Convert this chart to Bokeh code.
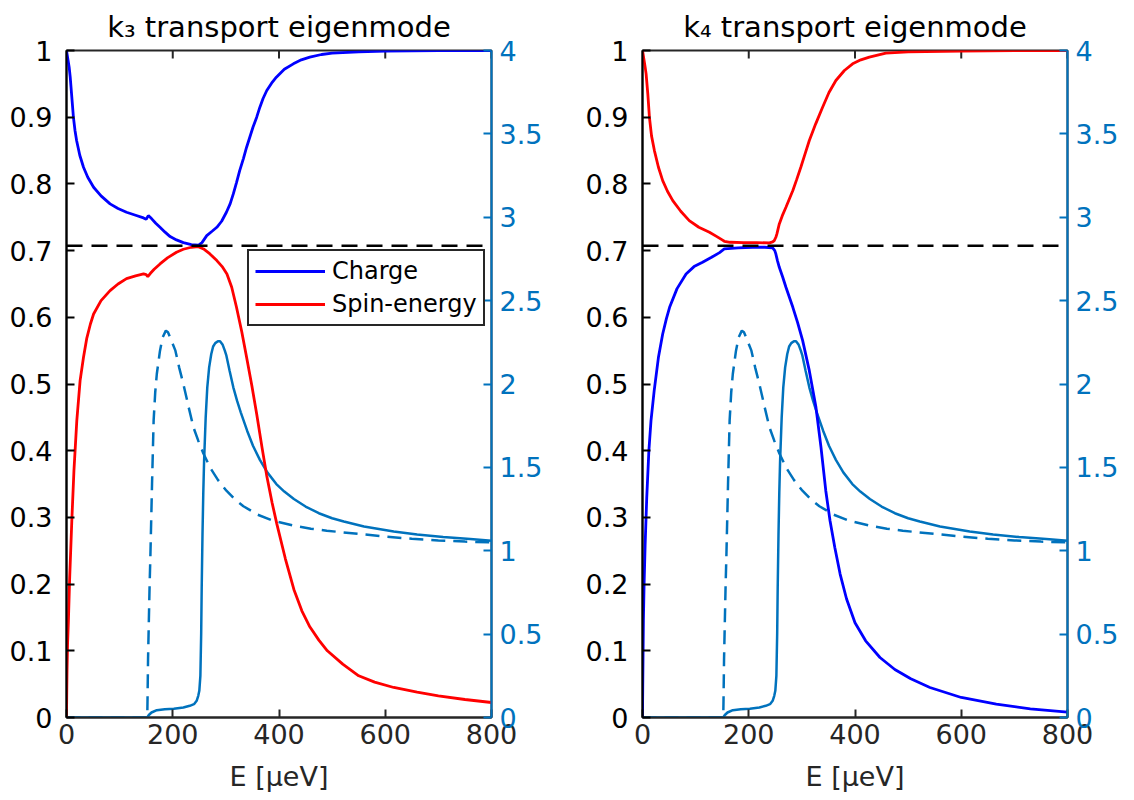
from bokeh.plotting import figure
from bokeh.models import Range1d, LinearAxis, FixedTicker, Span, Legend, LegendItem
from bokeh.layouts import row
from bokeh.embed import file_html
from bokeh.resources import INLINE

# ---------------- data ----------------
# k3 panel: charge component (left axis)
k3_charge_E = [0, 2, 5, 7, 10, 13, 16, 19, 25, 32, 40, 51, 65, 82, 97, 113, 130, 145, 150, 154, 160,
               168, 176, 185, 195, 207, 220, 235, 248, 255, 264, 274, 283, 292, 301, 308, 314, 320,
               326, 333, 339, 345, 351, 358, 364, 370, 377, 386, 395, 410, 427, 442, 458, 480, 500,
               550, 600, 700, 800]
k3_charge = [1.0, 0.99, 0.975, 0.96, 0.93, 0.90, 0.88, 0.865, 0.843, 0.825, 0.81, 0.795, 0.782, 0.770,
             0.763, 0.7575, 0.753, 0.749, 0.747, 0.7525, 0.748, 0.741, 0.735, 0.728, 0.721, 0.716,
             0.712, 0.709, 0.708, 0.712, 0.7225, 0.729, 0.735, 0.744, 0.7575, 0.77, 0.785, 0.802,
             0.82, 0.838, 0.855, 0.87, 0.885, 0.90, 0.915, 0.928, 0.94, 0.951, 0.96, 0.972, 0.98,
             0.986, 0.99, 0.994, 0.996, 0.998, 0.999, 1.0, 1.0]
# k3 panel: spin-energy component (left axis)
k3_spin_E = [0, 0.5, 1, 2, 3.6, 6, 10, 14, 19.4, 25.6, 32, 38, 45, 51, 65, 82, 97, 113, 130, 145, 150,
             153, 158, 165, 176, 190, 207, 220, 235, 248, 258, 270, 283, 293, 302, 311, 320, 330, 339,
             349, 358, 368, 377, 387, 396, 412, 428, 443, 458, 475, 491, 520, 550, 580, 616, 660,
             700, 750, 800]
k3_spin = [0, 0.04, 0.07, 0.11, 0.145, 0.21, 0.295, 0.37, 0.445, 0.505, 0.54, 0.568, 0.59, 0.605,
           0.625, 0.640, 0.650, 0.658, 0.662, 0.665, 0.664, 0.661, 0.666, 0.672, 0.680, 0.689, 0.6975,
           0.702, 0.705, 0.706, 0.7025, 0.695, 0.685, 0.676, 0.665, 0.645, 0.615, 0.578, 0.54, 0.497,
           0.455, 0.405, 0.362, 0.322, 0.29, 0.238, 0.192, 0.16, 0.136, 0.116, 0.10, 0.08, 0.0625,
           0.053, 0.045, 0.038, 0.0325, 0.027, 0.0225]

# k4 panel: charge component (left axis)
k4_charge_E = [0, 0.5, 1, 1.7, 3, 5, 8, 12, 16, 22, 30, 38, 45, 51, 65, 82, 97, 113, 130, 145, 154,
               180, 207, 230, 245, 249, 251, 254, 257.5, 264, 270, 283, 292, 301.5, 314, 326.5, 336,
               345, 353, 362, 372, 384, 400, 420, 447, 475, 505, 541, 600, 666, 730, 800]
k4_charge = [0, 0.05, 0.09, 0.145, 0.2, 0.26, 0.33, 0.40, 0.445, 0.49, 0.54, 0.575, 0.598, 0.615,
             0.643, 0.665, 0.676, 0.6825, 0.69, 0.697, 0.7025, 0.704, 0.705, 0.705, 0.704, 0.70,
             0.695, 0.685, 0.675, 0.66, 0.645, 0.615, 0.592, 0.565, 0.52, 0.465, 0.405, 0.34, 0.295,
             0.255, 0.215, 0.178, 0.142, 0.115, 0.09, 0.072, 0.058, 0.045, 0.03, 0.02, 0.013, 0.008]
# k4 panel: spin-energy component (left axis)
k4_spin_E = [0, 1, 3, 5, 6.8, 10, 13, 17, 22.4, 30, 38, 47, 57, 72, 88, 106, 126, 140, 150, 154, 165,
             190, 215, 239, 245, 248, 251, 253, 257.5, 263, 270, 283, 290, 298, 306, 314, 326, 339,
             351, 364, 380, 395.5, 411, 427, 458, 500, 600, 700, 800]
k4_spin = [1.0, 0.995, 0.985, 0.975, 0.965, 0.935, 0.90, 0.872, 0.85, 0.825, 0.805, 0.789, 0.775,
           0.759, 0.745, 0.735, 0.7275, 0.721, 0.716, 0.714, 0.7125, 0.712, 0.712, 0.7115, 0.713,
           0.715, 0.72, 0.725, 0.740, 0.752, 0.765, 0.79, 0.806, 0.825, 0.845, 0.865, 0.89, 0.915,
           0.937, 0.955, 0.97, 0.98, 0.986, 0.99, 0.996, 0.998, 0.999, 1.0, 1.0]

# right-axis curves (same in both panels)
solid_E = [0, 152, 155, 160, 170, 185, 202, 220, 232, 240, 245, 248, 250, 252, 253.5, 254.5, 256,
           257.5, 259, 262, 265, 268.5, 272.5, 276, 280, 285, 289, 294, 298, 301, 307, 314, 321, 328,
           340, 351, 364, 378, 395, 410, 428, 450, 475, 500, 522, 560, 616, 660, 709, 760, 800]
solid_V = [0, 0, 0.015, 0.03, 0.044, 0.05, 0.052, 0.06, 0.07, 0.08, 0.1, 0.13, 0.16, 0.25, 0.5, 0.78,
           1.1, 1.35, 1.54, 1.8, 1.98, 2.1, 2.18, 2.225, 2.245, 2.256, 2.256, 2.235, 2.2, 2.17, 2.08,
           1.98, 1.90, 1.83, 1.72, 1.63, 1.545, 1.47, 1.40, 1.355, 1.31, 1.265, 1.225, 1.195, 1.175,
           1.145, 1.115, 1.097, 1.082, 1.07, 1.06]
dashed_E = [0, 152, 152.5, 153.5, 155, 156.5, 158, 161, 164, 167, 170, 176, 181, 187, 191, 195, 200,
            205, 212, 220, 230, 239, 248, 257.5, 271, 285, 301, 317, 333, 360, 389, 428, 460, 490,
            553, 600, 650, 700, 750, 800]
dashed_V = [0, 0, 0.1, 0.35, 0.58, 0.8, 0.98, 1.4, 1.78, 1.95, 2.06, 2.2, 2.28, 2.32, 2.31, 2.28, 2.24,
            2.2, 2.1, 2.0, 1.86, 1.74, 1.66, 1.585, 1.495, 1.425, 1.36, 1.308, 1.267, 1.216, 1.18,
            1.15, 1.132, 1.12, 1.10, 1.085, 1.072, 1.062, 1.055, 1.05]

left_ticks = [0, 0.1, 0.2, 0.3, 0.4, 0.5, 0.6, 0.7, 0.8, 0.9, 1]
left_labels = ["0", "0.1", "0.2", "0.3", "0.4", "0.5", "0.6", "0.7", "0.8", "0.9", "1"]
right_ticks = [0, 0.5, 1, 1.5, 2, 2.5, 3, 3.5, 4]
right_labels = ["0", "0.5", "1", "1.5", "2", "2.5", "3", "3.5", "4"]
x_ticks = [0, 200, 400, 600, 800]
x_label = "E [\u03bceV]"
titles = ["k\u2083 transport eigenmode", "k\u2084 transport eigenmode"]
legend_labels = ["Charge", "Spin-energy"]
half_line = 0.7071

FONT = "DejaVu Sans"
AXC = "#262626"
LB = "#0072BD"
TICK_FS = "27px"


def style_axis(ax, color, ticks, labels=None, standoff=10):
    ax.ticker = FixedTicker(ticks=ticks)
    ax.axis_line_color = color
    ax.axis_line_width = 2
    ax.major_tick_line_color = color
    ax.major_tick_line_width = 2
    ax.major_tick_in = 8
    ax.major_tick_out = 0
    ax.minor_tick_line_color = None
    ax.major_label_text_font = FONT
    ax.major_label_text_color = color
    ax.major_label_standoff = standoff
    ax.major_label_text_font_size = TICK_FS
    if labels is not None:
        ax.major_label_overrides = {t: l for t, l in zip(ticks, labels)}


def panel(title, cE, cV, sE, sV, lb, rb, with_legend):
    p = figure(frame_width=425, frame_height=667, x_range=Range1d(0, 800), y_range=Range1d(0, 1),
               output_backend="svg", toolbar_location=None, title=title,
               min_border_left=lb, min_border_right=rb, min_border_top=50, min_border_bottom=80)
    p.title.align = "center"
    p.title.text_font = FONT
    p.title.text_font_size = "29px"
    p.title.text_font_style = "normal"
    p.title.text_color = "black"
    p.title.standoff = 13
    p.grid.visible = False
    p.outline_line_color = AXC
    p.outline_line_width = 2
    p.background_fill_color = "white"
    p.border_fill_color = "white"
    p.extra_y_ranges = {"right": Range1d(0, 4)}

    style_axis(p.xaxis[0], AXC, x_ticks, standoff=6)
    p.xaxis[0].axis_label = x_label
    p.xaxis[0].axis_label_text_font = FONT
    p.xaxis[0].axis_label_text_font_size = TICK_FS
    p.xaxis[0].axis_label_text_font_style = "normal"
    p.xaxis[0].axis_label_text_color = AXC
    p.xaxis[0].axis_label_standoff = 14
    style_axis(p.yaxis[0], "black", left_ticks, left_labels, standoff=14)

    rax = LinearAxis(y_range_name="right")
    style_axis(rax, LB, right_ticks, right_labels, standoff=8)
    p.add_layout(rax, "right")

    # tick marks along the top edge of the box
    p.segment(x0=x_ticks, y0=[1.0] * len(x_ticks), x1=x_ticks, y1=[1 - 8 / 667] * len(x_ticks),
              line_color=AXC, line_width=2)

    p.add_layout(Span(location=half_line, dimension="width", line_color="black",
                      line_width=2.5, line_dash="16 9"))

    p.line(solid_E, solid_V, y_range_name="right", line_color=LB, line_width=2.5)
    p.line(dashed_E, dashed_V, y_range_name="right", line_color=LB, line_width=2.5, line_dash="14 8")
    rc = p.line(cE, cV, line_color="#0000FF", line_width=2.8)
    rs = p.line(sE, sV, line_color="#FF0000", line_width=2.8)

    if with_legend:
        leg = Legend(items=[LegendItem(label=legend_labels[0], renderers=[rc]),
                            LegendItem(label=legend_labels[1], renderers=[rs])],
                     location=(181, 391), margin=0, padding=6, spacing=5,
                     glyph_width=70, glyph_height=26, label_height=26, label_standoff=7,
                     label_text_font=FONT, label_text_font_size="24px", label_text_color="black",
                     border_line_color=AXC, border_line_width=2, border_line_alpha=1.0,
                     background_fill_color="white", background_fill_alpha=1.0)
        p.add_layout(leg)
    return p


p1 = panel(titles[0], k3_charge_E, k3_charge, k3_spin_E, k3_spin, 66, 76, True)
p2 = panel(titles[1], k4_charge_E, k4_charge, k4_spin_E, k4_spin, 75, 55, False)
p = row(p1, p2)

open("out.html", "w").write(file_html(p, INLINE))
